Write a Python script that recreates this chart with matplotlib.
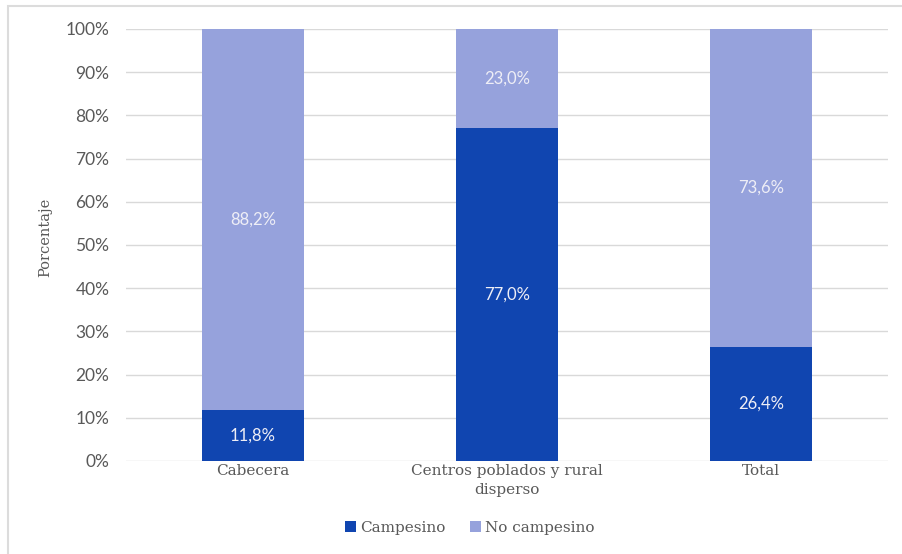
import matplotlib.pyplot as plt
from matplotlib.patches import Rectangle
import numpy as np

categories = ['Cabecera', 'Centros poblados y rural\ndisperso', 'Total']
campesino = [11.8, 77.0, 26.4]
no_campesino = [88.2, 23.0, 73.6]
series_names = ['Campesino', 'No campesino']

dark = '#1045B0'
light = '#96A2DC'
text_gray = '#595959'
serif = ['DejaVu Serif']

fig = plt.figure(figsize=(9.02, 5.54), dpi=100)
ax = fig.add_axes([0.1397, 0.168, 0.8448, 0.7797])

# light frame around the chart, cut off at right and bottom as in the screenshot
fig.patches.append(Rectangle((8 / 902, -0.2), 1.2, 1.2 - 6 / 554, transform=fig.transFigure,
                             fill=False, edgecolor='#DCDCDC', linewidth=1.5))

x = np.arange(len(categories))
width = 0.4
b1 = ax.bar(x, campesino, width, color=dark, label=series_names[0], zorder=3)
b2 = ax.bar(x, no_campesino, width, bottom=campesino, color=light,
            label=series_names[1], zorder=3)

for i in range(len(categories)):
    ax.text(x[i], campesino[i] / 2, f'{campesino[i]:.1f}%'.replace('.', ','),
            ha='center', va='center', color='#EEEEF6', fontsize=12, family='Lato',
            zorder=4)
    ax.text(x[i], campesino[i] + no_campesino[i] / 2,
            f'{no_campesino[i]:.1f}%'.replace('.', ','),
            ha='center', va='center', color='#EEEEF6', fontsize=12, family='Lato',
            zorder=4)

ax.set_xlim(-0.5, 2.5)
ax.set_ylim(0, 100)
ax.set_yticks(np.arange(0, 101, 10))
ax.set_yticklabels([f'{v}%' for v in range(0, 101, 10)], fontsize=12.5,
                   color=text_gray, family='Lato')
ax.set_xticks(x)
ax.set_xticklabels(categories, fontsize=11, color=text_gray, family=serif,
                   linespacing=1.5)
ax.tick_params(axis='both', length=0)
ax.tick_params(axis='y', pad=12)
ax.tick_params(axis='x', pad=2)
ax.grid(axis='y', color='#D9D9D9', linewidth=1, zorder=0)
for s in ax.spines.values():
    s.set_visible(False)

fig.text(45 / 902, 1 - 237 / 554, 'Porcentaje', rotation=90, ha='center', va='center',
         fontsize=10.5, color=text_gray, family=serif)

fig.legend(handles=[b1, b2], loc='center', bbox_to_anchor=(470 / 902, 1 - 528 / 554),
           ncol=2, frameon=False, handlelength=0.7, handleheight=0.7,
           handletextpad=0.3, columnspacing=1.6,
           prop={'family': 'DejaVu Serif', 'size': 11}, labelcolor=text_gray)

fig.savefig('out.png', dpi=100)
